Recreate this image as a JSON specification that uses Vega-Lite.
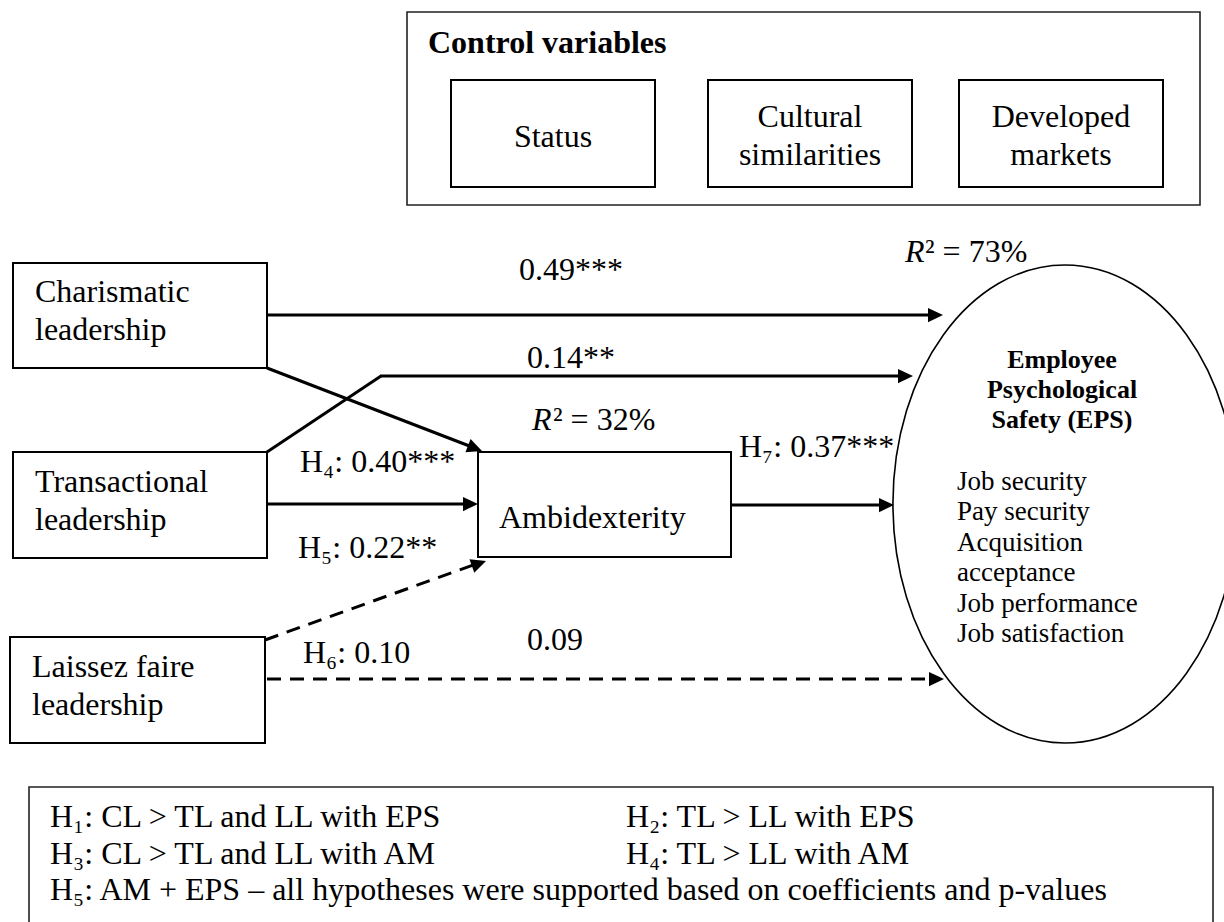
{
  "$schema": "https://vega.github.io/schema/vega-lite/v6.json",
  "width": 1224,
  "height": 922,
  "padding": 0,
  "autosize": {"type": "none"},
  "background": "white",
  "config": {"view": {"stroke": null}},
  "datasets": {
    "boxes": [
      {"name": "Control variables", "group": "container", "x": 407, "x2": 1200, "y": 12, "y2": 205},
      {"name": "Status", "group": "node", "x": 451, "x2": 655, "y": 80, "y2": 187},
      {"name": "Cultural similarities", "group": "node", "x": 708, "x2": 912, "y": 80, "y2": 187},
      {"name": "Developed markets", "group": "node", "x": 959, "x2": 1163, "y": 80, "y2": 187},
      {"name": "Charismatic leadership", "group": "node", "x": 13, "x2": 267, "y": 263, "y2": 368},
      {"name": "Transactional leadership", "group": "node", "x": 13, "x2": 267, "y": 452, "y2": 558},
      {"name": "Laissez faire leadership", "group": "node", "x": 10, "x2": 265, "y": 637, "y2": 743},
      {"name": "Ambidexterity", "group": "node", "x": 478, "x2": 731, "y": 452, "y2": 557},
      {"name": "Hypotheses", "group": "container", "x": 29, "x2": 1213, "y": 787, "y2": 960}
    ],
    "paths": [
      {"path": "CL-EPS", "sig": "yes", "x": 267, "y": 315, "x2": 933, "y2": 315},
      {"path": "CL-AM", "sig": "yes", "x": 267, "y": 368, "x2": 472, "y2": 447},
      {"path": "TL-EPS a", "sig": "yes", "x": 267, "y": 452, "x2": 381, "y2": 376},
      {"path": "TL-EPS b", "sig": "yes", "x": 380, "y": 376, "x2": 903, "y2": 376},
      {"path": "TL-AM", "sig": "yes", "x": 267, "y": 504, "x2": 468, "y2": 504},
      {"path": "AM-EPS", "sig": "yes", "x": 731, "y": 505, "x2": 884, "y2": 505},
      {"path": "LL-AM", "sig": "no", "x": 265, "y": 640, "x2": 476, "y2": 564},
      {"path": "LL-EPS", "sig": "no", "x": 267, "y": 679, "x2": 934, "y2": 679}
    ],
    "heads": [
      {"path": "CL-EPS", "x": 943, "y": 315, "angle": 0},
      {"path": "CL-AM", "x": 482, "y": 451, "angle": 21.2},
      {"path": "TL-EPS", "x": 913, "y": 376, "angle": 0},
      {"path": "TL-AM", "x": 478, "y": 504, "angle": 0},
      {"path": "AM-EPS", "x": 894, "y": 505, "angle": 0},
      {"path": "LL-AM", "x": 486, "y": 561, "angle": 340.3},
      {"path": "LL-EPS", "x": 944, "y": 679, "angle": 0}
    ]
  },
  "layer": [
    {
      "data": {"name": "boxes"},
      "transform": [{"filter": "datum.group === 'node'"}],
      "mark": {"type": "rect", "fill": "white", "stroke": "black", "strokeWidth": 2},
      "encoding": {
        "x": {"field": "x", "type": "quantitative", "axis": null, "scale": {"domain": [0, 1224], "nice": false, "zero": false}},
        "x2": {"field": "x2"},
        "y": {"field": "y", "type": "quantitative", "axis": null, "scale": {"domain": [0, 922], "reverse": true, "nice": false, "zero": false}},
        "y2": {"field": "y2"}
      }
    },
    {
      "data": {"name": "boxes"},
      "transform": [{"filter": "datum.group === 'container'"}],
      "mark": {"type": "rect", "fill": null, "stroke": "#222", "strokeWidth": 1.6, "clip": true},
      "encoding": {
        "x": {"field": "x", "type": "quantitative", "axis": null},
        "x2": {"field": "x2"},
        "y": {"field": "y", "type": "quantitative", "axis": null},
        "y2": {"field": "y2"}
      }
    },
    {
      "data": {"name": "paths"},
      "transform": [{"filter": "datum.sig === 'yes'"}],
      "mark": {"type": "rule", "color": "black", "strokeWidth": 3},
      "encoding": {
        "x": {"field": "x", "type": "quantitative", "axis": null},
        "x2": {"field": "x2"},
        "y": {"field": "y", "type": "quantitative", "axis": null},
        "y2": {"field": "y2"}
      }
    },
    {
      "data": {"name": "paths"},
      "transform": [{"filter": "datum.sig === 'no'"}],
      "mark": {"type": "rule", "color": "black", "strokeWidth": 3, "strokeDash": [14, 9]},
      "encoding": {
        "x": {"field": "x", "type": "quantitative", "axis": null},
        "x2": {"field": "x2"},
        "y": {"field": "y", "type": "quantitative", "axis": null},
        "y2": {"field": "y2"}
      }
    },
    {
      "data": {"name": "heads"},
      "mark": {"type": "point", "shape": "M0,0L-2,-0.95L-2,0.95Z", "filled": true, "color": "black", "opacity": 1, "size": 225, "strokeWidth": 0},
      "encoding": {
        "x": {"field": "x", "type": "quantitative", "axis": null},
        "y": {"field": "y", "type": "quantitative", "axis": null},
        "angle": {"field": "angle", "type": "quantitative", "scale": null}
      }
    },
    {
      "data": {"values": [{"name": "Employee Psychological Safety (EPS)", "x": 1065, "y": 504}]},
      "mark": {"type": "point", "shape": "M-0.72,0A0.72,1,0,1,1,0.72,0A0.72,1,0,1,1,-0.72,0Z", "filled": false, "stroke": "black", "opacity": 1, "strokeWidth": 1.6, "size": 228484},
      "encoding": {
        "x": {"field": "x", "type": "quantitative", "axis": null},
        "y": {"field": "y", "type": "quantitative", "axis": null}
      }
    },
    {
      "data": {"values": [
        {"t": "Charismatic\nleadership", "x": 35, "y": 302},
        {"t": "Transactional\nleadership", "x": 35, "y": 492},
        {"t": "Laissez faire\nleadership", "x": 32, "y": 677},
        {"t": "Ambidexterity", "x": 499, "y": 528},
        {"t": "0.49***", "x": 519, "y": 280},
        {"t": "0.14**", "x": 527, "y": 368},
        {"t": "H₇: 0.37***", "x": 739, "y": 457},
        {"t": "0.09", "x": 527, "y": 650},
        {"t": "H₄: 0.40***", "x": 300, "y": 472},
        {"t": "H₅: 0.22**", "x": 298, "y": 558},
        {"t": "H₆: 0.10", "x": 303, "y": 663},
        {"t": "² = 32%", "x": 553, "y": 430},
        {"t": "² = 73%", "x": 925, "y": 262}
      ]},
      "mark": {"type": "text", "font": "Liberation Serif", "fontSize": 32, "align": "left", "baseline": "alphabetic", "lineBreak": "\n", "lineHeight": 38, "color": "black"},
      "encoding": {
        "x": {"field": "x", "type": "quantitative", "axis": null},
        "y": {"field": "y", "type": "quantitative", "axis": null},
        "text": {"field": "t"}
      }
    },
    {
      "data": {"values": [
        {"t": "R", "x": 532, "y": 430},
        {"t": "R", "x": 905, "y": 262}
      ]},
      "mark": {"type": "text", "font": "Liberation Serif", "fontSize": 32, "fontStyle": "italic", "align": "left", "baseline": "alphabetic", "color": "black"},
      "encoding": {
        "x": {"field": "x", "type": "quantitative", "axis": null},
        "y": {"field": "y", "type": "quantitative", "axis": null},
        "text": {"field": "t"}
      }
    },
    {
      "data": {"values": [
        {"t": "Status", "x": 553, "y": 147},
        {"t": "Cultural\nsimilarities", "x": 810, "y": 127},
        {"t": "Developed\nmarkets", "x": 1061, "y": 127}
      ]},
      "mark": {"type": "text", "font": "Liberation Serif", "fontSize": 32, "align": "center", "baseline": "alphabetic", "lineBreak": "\n", "lineHeight": 38, "color": "black"},
      "encoding": {
        "x": {"field": "x", "type": "quantitative", "axis": null},
        "y": {"field": "y", "type": "quantitative", "axis": null},
        "text": {"field": "t"}
      }
    },
    {
      "data": {"values": [{"t": "Control variables", "x": 428, "y": 53}]},
      "mark": {"type": "text", "font": "Liberation Serif", "fontSize": 32, "fontWeight": "bold", "align": "left", "baseline": "alphabetic", "color": "black"},
      "encoding": {
        "x": {"field": "x", "type": "quantitative", "axis": null},
        "y": {"field": "y", "type": "quantitative", "axis": null},
        "text": {"field": "t"}
      }
    },
    {
      "data": {"values": [{"t": "Employee\nPsychological\nSafety (EPS)", "x": 1062, "y": 368}]},
      "mark": {"type": "text", "font": "Liberation Serif", "fontSize": 26, "fontWeight": "bold", "align": "center", "baseline": "alphabetic", "lineBreak": "\n", "lineHeight": 30, "color": "black"},
      "encoding": {
        "x": {"field": "x", "type": "quantitative", "axis": null},
        "y": {"field": "y", "type": "quantitative", "axis": null},
        "text": {"field": "t"}
      }
    },
    {
      "data": {"values": [{"t": "Job security\nPay security\nAcquisition\nacceptance\nJob performance\nJob satisfaction", "x": 957, "y": 490}]},
      "mark": {"type": "text", "font": "Liberation Serif", "fontSize": 27, "align": "left", "baseline": "alphabetic", "lineBreak": "\n", "lineHeight": 30.4, "color": "black"},
      "encoding": {
        "x": {"field": "x", "type": "quantitative", "axis": null},
        "y": {"field": "y", "type": "quantitative", "axis": null},
        "text": {"field": "t"}
      }
    },
    {
      "data": {"values": [
        {"t": "H₁: CL > TL and LL with EPS\nH₃: CL > TL and LL with AM\nH₅: AM + EPS – all hypotheses were supported based on coefficients and p-values", "x": 50, "y": 827},
        {"t": "H₂: TL > LL with EPS\nH₄: TL > LL with AM", "x": 626, "y": 827}
      ]},
      "mark": {"type": "text", "font": "Liberation Serif", "fontSize": 32, "align": "left", "baseline": "alphabetic", "lineBreak": "\n", "lineHeight": 36.5, "color": "black"},
      "encoding": {
        "x": {"field": "x", "type": "quantitative", "axis": null},
        "y": {"field": "y", "type": "quantitative", "axis": null},
        "text": {"field": "t"}
      }
    }
  ]
}
